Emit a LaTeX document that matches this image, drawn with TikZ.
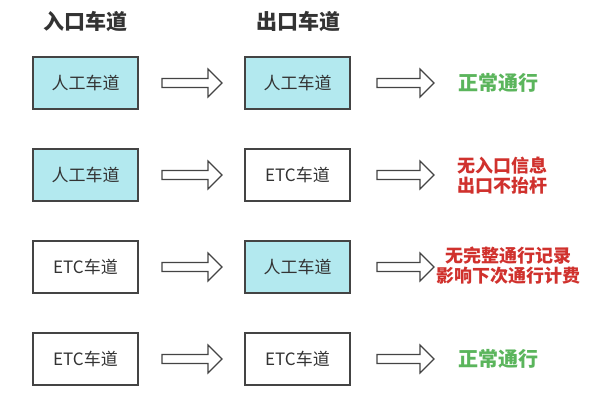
\documentclass[tikz,border=0pt]{standalone}
\usepackage{fontspec}
\newfontfamily\cjk{Noto Sans CJK SC}
\usetikzlibrary{calc}
\definecolor{boxcyan}{HTML}{B3E9EF}
\definecolor{edgegray}{HTML}{444444}
\definecolor{okgreen}{HTML}{5BB55C}
\definecolor{badred}{HTML}{D0312D}
\definecolor{hdr}{HTML}{333333}
\newcommand\blockarr[3]{%
  \draw[blockarrow] (#1,#3-4.5) -- (#2-14,#3-4.5) -- (#2-14,#3-14) -- (#2,#3)
    -- (#2-14,#3+14) -- (#2-14,#3+4.5) -- (#1,#3+4.5) -- cycle;}
\begin{document}
\begin{tikzpicture}[x=1pt,y=-1pt,
  lane/.style={draw=edgegray,line width=1.4pt,minimum width=105pt,minimum height=52pt,
    inner sep=0pt,font=\cjk\fontsize{17}{20}\selectfont,text=hdr},
  manual/.style={lane,fill=boxcyan},
  etclane/.style={lane,fill=white},
  header/.style={font=\cjk\bfseries\fontsize{21}{24}\selectfont,text=hdr},
  good/.style={font=\cjk\bfseries\fontsize{20}{24}\selectfont,text=okgreen},
  bad/.style={font=\cjk\bfseries\fontsize{18}{20}\selectfont,text=badred,align=center},
  blockarrow/.style={draw=edgegray,line width=1.2pt,fill=white,line join=miter}]
\useasboundingbox[fill=white] (0,0) rectangle (600,400);

\node[header] (h1) at (85,22) {入口车道};
\node[header] (h2) at (298,22) {出口车道};

% row 1
\node[manual] (a1) at (85.5,83) {人工车道};
\node[manual] (b1) at (297.5,83) {人工车道};
\node[good] (r1) at (498,83) {正常通行};
% row 2
\node[manual] (a2) at (85.5,175) {人工车道};
\node[etclane] (b2) at (297.5,175) {ETC车道};
\node[bad] (r2) at (502,176) {无入口信息\\出口不抬杆};
% row 3
\node[etclane] (a3) at (85.5,267) {ETC车道};
\node[manual] (b3) at (297.5,267) {人工车道};
\node[bad] (r3) at (508,266) {无完整通行记录\\影响下次通行计费};
% row 4
\node[etclane] (a4) at (85.5,359) {ETC车道};
\node[etclane] (b4) at (297.5,359) {ETC车道};
\node[good] (r4) at (498,359) {正常通行};

\foreach \y in {83,175,267,359}{
  \blockarr{162}{222}{\y}
  \blockarr{377}{434}{\y}
}
\end{tikzpicture}
\end{document}
